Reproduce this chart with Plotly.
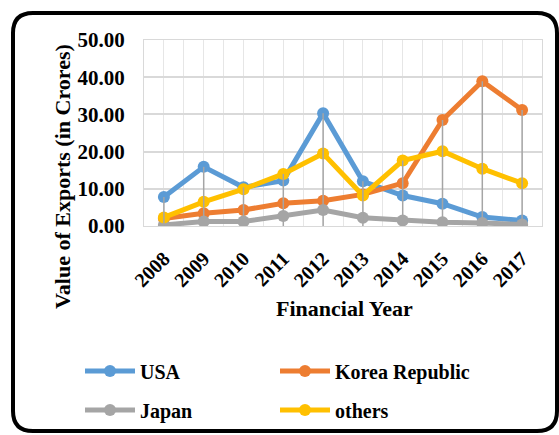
import plotly.graph_objects as go

# ---- data ----
years = ["2008", "2009", "2010", "2011", "2012", "2013", "2014", "2015", "2016", "2017"]
usa = [7.8, 15.9, 10.4, 12.2, 30.3, 12.0, 8.2, 6.0, 2.4, 1.5]
korea = [2.0, 3.4, 4.3, 6.1, 6.8, 8.5, 11.5, 28.5, 38.9, 31.2]
japan = [0.3, 1.2, 1.2, 2.7, 4.3, 2.2, 1.5, 1.0, 0.8, 0.4]
others = [2.3, 6.5, 9.9, 14.0, 19.5, 8.2, 17.6, 20.1, 15.4, 11.5]
y_ticks = [0, 10, 20, 30, 40, 50]

series = [
    ("USA", usa, "#5B9BD5", "legend"),
    ("Korea Republic", korea, "#ED7D31", "legend"),
    ("Japan", japan, "#A5A5A5", "legend2"),
    ("others", others, "#FFC000", "legend2"),
]

W, H = 559, 435
ML, MR, MT, MB = 144, 17, 40, 209
PW = W - ML - MR
PH = H - MT - MB

def px(x):
    return (x - ML) / PW

def py(y):
    return (H - MB - y) / PH

FONT = "Liberation Serif"
xi = list(range(len(years)))

fig = go.Figure()
for name, vals, col, lg in series:
    fig.add_trace(go.Scatter(
        x=xi, y=vals, name=name, mode="lines+markers",
        line=dict(color=col, width=5),
        marker=dict(color=col, size=12),
        legend=lg,
    ))

# drop lines from the highest value of each category down to the axis
tops = [max(v) for v in zip(usa, korea, japan, others)]
dx, dy = [], []
for i, t in zip(xi, tops):
    dx += [i, i, None]
    dy += [0, t, None]
fig.add_trace(go.Scatter(x=dx, y=dy, mode="lines", line=dict(color="#A5A5A5", width=1.5),
                         showlegend=False, hoverinfo="skip"))

# rounded border of the chart area (pixel coords -> paper)
L, T, R, B, r = 13, 13, 557, 431, 20
path = (
    f"M {px(L + r)},{py(T)} L {px(R - r)},{py(T)} Q {px(R)},{py(T)} {px(R)},{py(T + r)} "
    f"L {px(R)},{py(B - r)} Q {px(R)},{py(B)} {px(R - r)},{py(B)} "
    f"L {px(L + r)},{py(B)} Q {px(L)},{py(B)} {px(L)},{py(B - r)} "
    f"L {px(L)},{py(T + r)} Q {px(L)},{py(T)} {px(L + r)},{py(T)} Z"
)
fig.add_shape(type="path", path=path, xref="paper", yref="paper",
              line=dict(color="black", width=4), layer="above")

ytickfont = dict(family=FONT, size=21, color="black", weight="bold")
xtickfont = dict(family=FONT, size=20, color="black", weight="bold")
legfont = dict(family=FONT, size=20, color="black", weight="bold")

fig.update_layout(
    width=W, height=H,
    margin=dict(l=ML, r=MR, t=MT, b=MB, autoexpand=False),
    paper_bgcolor="white", plot_bgcolor="white",
    showlegend=True,
    xaxis=dict(
        range=[-0.5, len(years) - 0.5],
        tickmode="array", tickvals=xi, ticktext=years,
        tickangle=-45, tickfont=xtickfont, automargin=False,
        showgrid=True, gridcolor="#E6E6E6", gridwidth=1,
        minor=dict(tickmode="linear", tick0=-0.5, dtick=1, showgrid=True,
                   gridcolor="#E6E6E6", gridwidth=1),
        showline=True, linecolor="#D9D9D9", linewidth=1, mirror=True,
        zeroline=False, ticks="", ticklabelstandoff=12,
        fixedrange=True,
    ),
    yaxis=dict(
        range=[0, 50], tickmode="array", tickvals=y_ticks,
        tickformat=".2f", tickfont=ytickfont, automargin=False,
        showgrid=True, gridcolor="#D9D9D9", gridwidth=1.5,
        showline=True, linecolor="#D9D9D9", linewidth=1, mirror=True,
        zeroline=False, ticks="", ticklabelstandoff=14,
        fixedrange=True,
    ),
    legend=dict(
        orientation="h", x=px(80), y=py(371), xanchor="left", yanchor="middle",
        font=legfont, itemwidth=50,
        entrywidth=130, bgcolor="rgba(0,0,0,0)", itemclick=False,
    ),
    legend2=dict(
        orientation="h", x=px(80), y=py(410), xanchor="left", yanchor="middle",
        font=legfont, itemwidth=50,
        entrywidth=130, bgcolor="rgba(0,0,0,0)", itemclick=False,
    ),
    annotations=[
        dict(text="<b>Value of Exports (in Crores)</b>", x=px(62), y=py(177),
             xref="paper", yref="paper", textangle=-90, showarrow=False,
             xanchor="center", yanchor="middle",
             font=dict(family=FONT, size=22, color="black")),
        dict(text="<b>Financial Year</b>", x=px(344.5), y=py(308),
             xref="paper", yref="paper", showarrow=False,
             xanchor="center", yanchor="middle",
             font=dict(family=FONT, size=22, color="black")),
    ],
)

fig.write_html("out.html", config={"displayModeBar": False},
               post_script="document.body.style.margin='0px';")
